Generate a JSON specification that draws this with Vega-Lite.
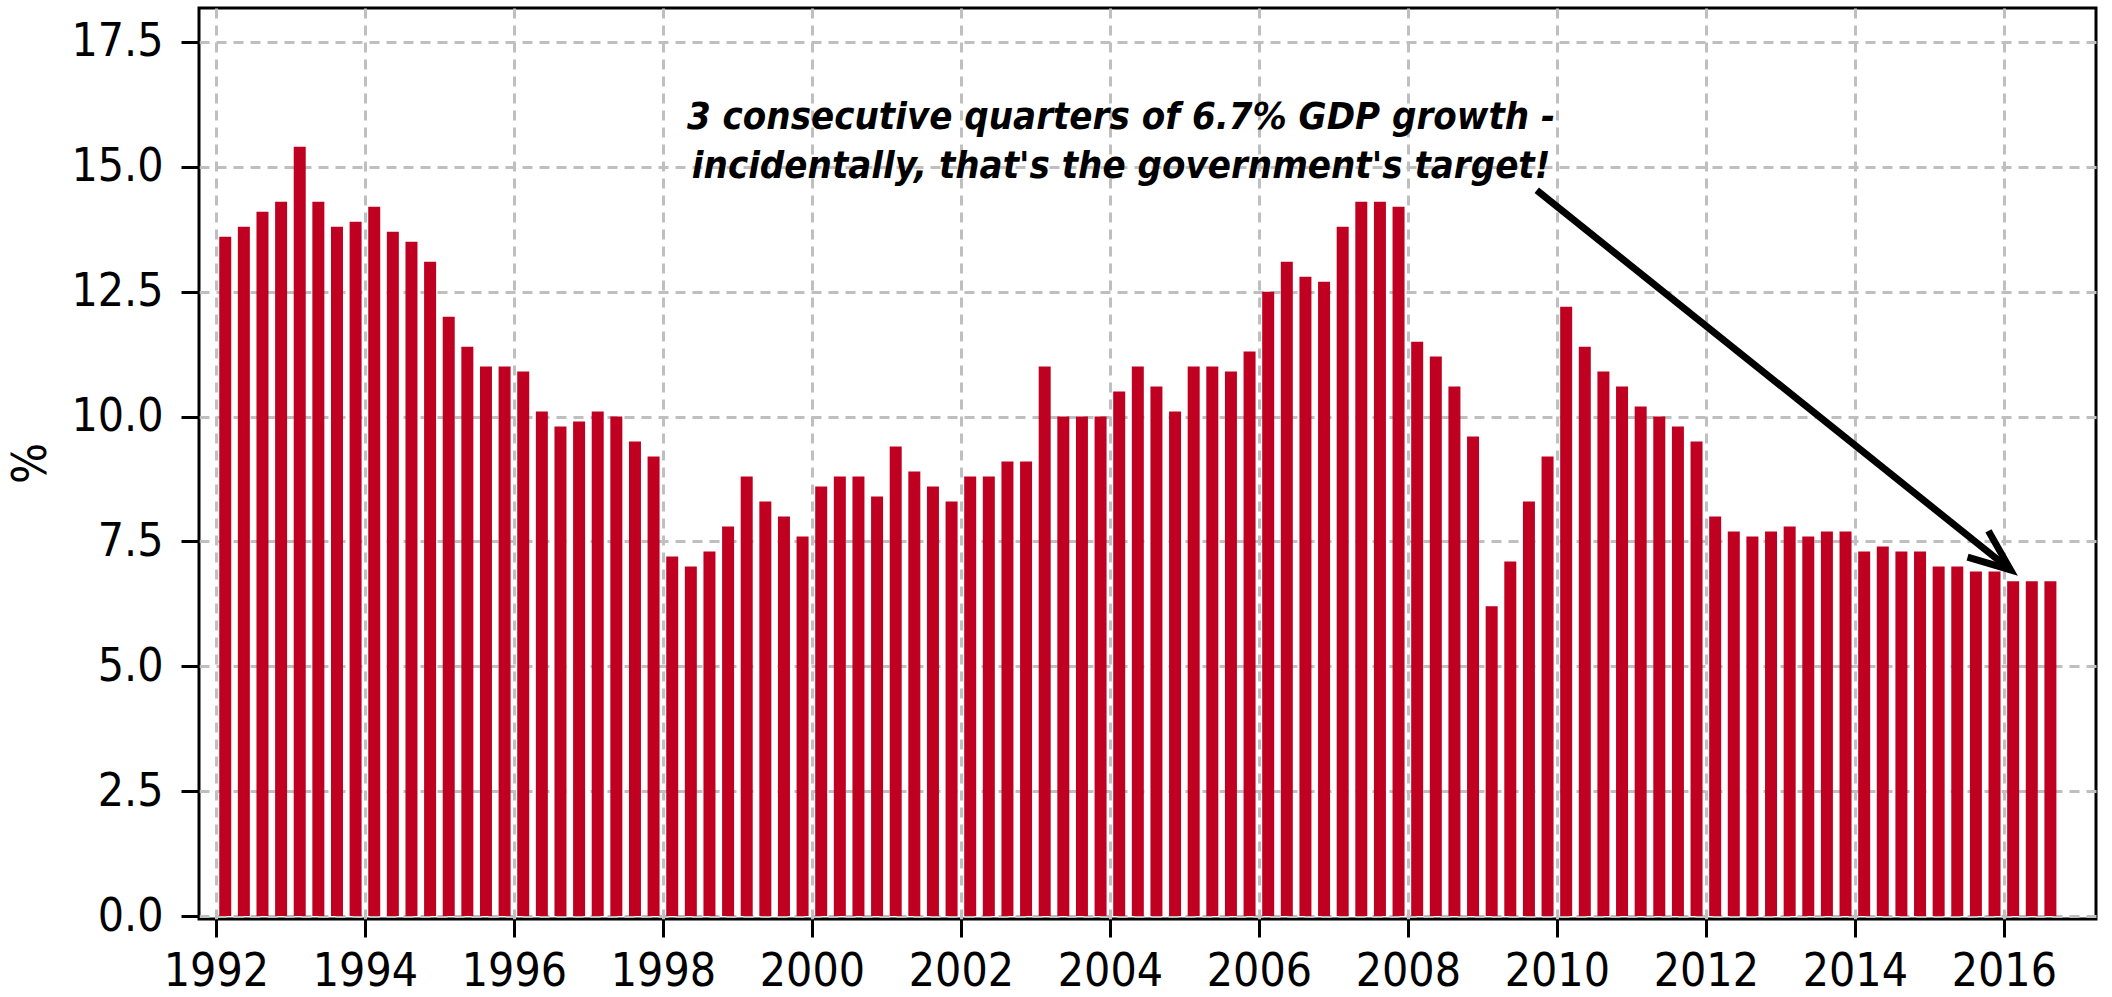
{
  "$schema": "https://vega.github.io/schema/vega-lite/v6.json",
  "width": 1897,
  "height": 911,
  "autosize": "none",
  "padding": {"left": 199, "top": 8, "right": 16, "bottom": 78},
  "background": "white",
  "config": {
    "view": {"stroke": "black", "strokeWidth": 3},
    "font": "Liberation Sans Narrow, DejaVu Sans Condensed, Roboto, sans-serif"
  },
  "datasets": {
    "gdp": [
      {"quarter": "1992Q1", "t": 1992.125, "growth": 13.6},
      {"quarter": "1992Q2", "t": 1992.375, "growth": 13.8},
      {"quarter": "1992Q3", "t": 1992.625, "growth": 14.1},
      {"quarter": "1992Q4", "t": 1992.875, "growth": 14.3},
      {"quarter": "1993Q1", "t": 1993.125, "growth": 15.4},
      {"quarter": "1993Q2", "t": 1993.375, "growth": 14.3},
      {"quarter": "1993Q3", "t": 1993.625, "growth": 13.8},
      {"quarter": "1993Q4", "t": 1993.875, "growth": 13.9},
      {"quarter": "1994Q1", "t": 1994.125, "growth": 14.2},
      {"quarter": "1994Q2", "t": 1994.375, "growth": 13.7},
      {"quarter": "1994Q3", "t": 1994.625, "growth": 13.5},
      {"quarter": "1994Q4", "t": 1994.875, "growth": 13.1},
      {"quarter": "1995Q1", "t": 1995.125, "growth": 12.0},
      {"quarter": "1995Q2", "t": 1995.375, "growth": 11.4},
      {"quarter": "1995Q3", "t": 1995.625, "growth": 11.0},
      {"quarter": "1995Q4", "t": 1995.875, "growth": 11.0},
      {"quarter": "1996Q1", "t": 1996.125, "growth": 10.9},
      {"quarter": "1996Q2", "t": 1996.375, "growth": 10.1},
      {"quarter": "1996Q3", "t": 1996.625, "growth": 9.8},
      {"quarter": "1996Q4", "t": 1996.875, "growth": 9.9},
      {"quarter": "1997Q1", "t": 1997.125, "growth": 10.1},
      {"quarter": "1997Q2", "t": 1997.375, "growth": 10.0},
      {"quarter": "1997Q3", "t": 1997.625, "growth": 9.5},
      {"quarter": "1997Q4", "t": 1997.875, "growth": 9.2},
      {"quarter": "1998Q1", "t": 1998.125, "growth": 7.2},
      {"quarter": "1998Q2", "t": 1998.375, "growth": 7.0},
      {"quarter": "1998Q3", "t": 1998.625, "growth": 7.3},
      {"quarter": "1998Q4", "t": 1998.875, "growth": 7.8},
      {"quarter": "1999Q1", "t": 1999.125, "growth": 8.8},
      {"quarter": "1999Q2", "t": 1999.375, "growth": 8.3},
      {"quarter": "1999Q3", "t": 1999.625, "growth": 8.0},
      {"quarter": "1999Q4", "t": 1999.875, "growth": 7.6},
      {"quarter": "2000Q1", "t": 2000.125, "growth": 8.6},
      {"quarter": "2000Q2", "t": 2000.375, "growth": 8.8},
      {"quarter": "2000Q3", "t": 2000.625, "growth": 8.8},
      {"quarter": "2000Q4", "t": 2000.875, "growth": 8.4},
      {"quarter": "2001Q1", "t": 2001.125, "growth": 9.4},
      {"quarter": "2001Q2", "t": 2001.375, "growth": 8.9},
      {"quarter": "2001Q3", "t": 2001.625, "growth": 8.6},
      {"quarter": "2001Q4", "t": 2001.875, "growth": 8.3},
      {"quarter": "2002Q1", "t": 2002.125, "growth": 8.8},
      {"quarter": "2002Q2", "t": 2002.375, "growth": 8.8},
      {"quarter": "2002Q3", "t": 2002.625, "growth": 9.1},
      {"quarter": "2002Q4", "t": 2002.875, "growth": 9.1},
      {"quarter": "2003Q1", "t": 2003.125, "growth": 11.0},
      {"quarter": "2003Q2", "t": 2003.375, "growth": 10.0},
      {"quarter": "2003Q3", "t": 2003.625, "growth": 10.0},
      {"quarter": "2003Q4", "t": 2003.875, "growth": 10.0},
      {"quarter": "2004Q1", "t": 2004.125, "growth": 10.5},
      {"quarter": "2004Q2", "t": 2004.375, "growth": 11.0},
      {"quarter": "2004Q3", "t": 2004.625, "growth": 10.6},
      {"quarter": "2004Q4", "t": 2004.875, "growth": 10.1},
      {"quarter": "2005Q1", "t": 2005.125, "growth": 11.0},
      {"quarter": "2005Q2", "t": 2005.375, "growth": 11.0},
      {"quarter": "2005Q3", "t": 2005.625, "growth": 10.9},
      {"quarter": "2005Q4", "t": 2005.875, "growth": 11.3},
      {"quarter": "2006Q1", "t": 2006.125, "growth": 12.5},
      {"quarter": "2006Q2", "t": 2006.375, "growth": 13.1},
      {"quarter": "2006Q3", "t": 2006.625, "growth": 12.8},
      {"quarter": "2006Q4", "t": 2006.875, "growth": 12.7},
      {"quarter": "2007Q1", "t": 2007.125, "growth": 13.8},
      {"quarter": "2007Q2", "t": 2007.375, "growth": 14.3},
      {"quarter": "2007Q3", "t": 2007.625, "growth": 14.3},
      {"quarter": "2007Q4", "t": 2007.875, "growth": 14.2},
      {"quarter": "2008Q1", "t": 2008.125, "growth": 11.5},
      {"quarter": "2008Q2", "t": 2008.375, "growth": 11.2},
      {"quarter": "2008Q3", "t": 2008.625, "growth": 10.6},
      {"quarter": "2008Q4", "t": 2008.875, "growth": 9.6},
      {"quarter": "2009Q1", "t": 2009.125, "growth": 6.2},
      {"quarter": "2009Q2", "t": 2009.375, "growth": 7.1},
      {"quarter": "2009Q3", "t": 2009.625, "growth": 8.3},
      {"quarter": "2009Q4", "t": 2009.875, "growth": 9.2},
      {"quarter": "2010Q1", "t": 2010.125, "growth": 12.2},
      {"quarter": "2010Q2", "t": 2010.375, "growth": 11.4},
      {"quarter": "2010Q3", "t": 2010.625, "growth": 10.9},
      {"quarter": "2010Q4", "t": 2010.875, "growth": 10.6},
      {"quarter": "2011Q1", "t": 2011.125, "growth": 10.2},
      {"quarter": "2011Q2", "t": 2011.375, "growth": 10.0},
      {"quarter": "2011Q3", "t": 2011.625, "growth": 9.8},
      {"quarter": "2011Q4", "t": 2011.875, "growth": 9.5},
      {"quarter": "2012Q1", "t": 2012.125, "growth": 8.0},
      {"quarter": "2012Q2", "t": 2012.375, "growth": 7.7},
      {"quarter": "2012Q3", "t": 2012.625, "growth": 7.6},
      {"quarter": "2012Q4", "t": 2012.875, "growth": 7.7},
      {"quarter": "2013Q1", "t": 2013.125, "growth": 7.8},
      {"quarter": "2013Q2", "t": 2013.375, "growth": 7.6},
      {"quarter": "2013Q3", "t": 2013.625, "growth": 7.7},
      {"quarter": "2013Q4", "t": 2013.875, "growth": 7.7},
      {"quarter": "2014Q1", "t": 2014.125, "growth": 7.3},
      {"quarter": "2014Q2", "t": 2014.375, "growth": 7.4},
      {"quarter": "2014Q3", "t": 2014.625, "growth": 7.3},
      {"quarter": "2014Q4", "t": 2014.875, "growth": 7.3},
      {"quarter": "2015Q1", "t": 2015.125, "growth": 7.0},
      {"quarter": "2015Q2", "t": 2015.375, "growth": 7.0},
      {"quarter": "2015Q3", "t": 2015.625, "growth": 6.9},
      {"quarter": "2015Q4", "t": 2015.875, "growth": 6.9},
      {"quarter": "2016Q1", "t": 2016.125, "growth": 6.7},
      {"quarter": "2016Q2", "t": 2016.375, "growth": 6.7},
      {"quarter": "2016Q3", "t": 2016.625, "growth": 6.7}
    ],
    "note": [
      {"t": 2004.15, "growth": 15.75, "label": ["3 consecutive quarters of 6.7% GDP growth -", "incidentally, that's the government's target!"]}
    ],
    "arrow": [
      {"t": 2009.73, "growth": 14.53, "t_end": 2016.09, "growth_end": 6.93}
    ]
  },
  "layer": [
    {
      "data": {"name": "gdp"},
      "mark": {"type": "bar", "color": "#c00020", "size": 12},
      "encoding": {
        "x": {
          "field": "t",
          "type": "quantitative",
          "scale": {"domain": [1991.84, 2017.17], "nice": false, "zero": false},
          "axis": {
            "title": null,
            "values": [1992, 1994, 1996, 1998, 2000, 2002, 2004, 2006, 2008, 2010, 2012, 2014, 2016],
            "format": "d",
            "grid": true,
            "gridDash": [10, 7],
            "gridColor": "#bfbfbf",
            "gridWidth": 3,
            "domain": false,
            "tickColor": "black",
            "tickWidth": 3,
            "tickSize": 18,
            "labelFontSize": 46,
            "labelColor": "black",
            "labelPadding": 12,
            "labelFlush": false,
            "labelOverlap": false
          }
        },
        "y": {
          "field": "growth",
          "type": "quantitative",
          "scale": {"domain": [-0.06, 18.18], "nice": false, "zero": false},
          "axis": {
            "title": "%",
            "titleFontSize": 48,
            "titleFontWeight": "normal",
            "titleColor": "black",
            "titleAngle": -90,
            "titleAlign": "center",
            "titleBaseline": "middle",
            "titleX": -168,
            "titleY": 455,
            "values": [0, 2.5, 5, 7.5, 10, 12.5, 15, 17.5],
            "format": ".1f",
            "grid": true,
            "gridDash": [10, 7],
            "gridColor": "#bfbfbf",
            "gridWidth": 3,
            "domain": false,
            "tickColor": "black",
            "tickWidth": 3,
            "tickSize": 18,
            "labelFontSize": 46,
            "labelColor": "black",
            "labelPadding": 18,
            "labelFlush": false,
            "labelOverlap": false
          }
        }
      }
    },
    {
      "data": {"name": "note"},
      "mark": {
        "type": "text",
        "fontStyle": "italic",
        "fontWeight": "bold",
        "fontSize": 38,
        "lineHeight": 49,
        "align": "center",
        "baseline": "alphabetic",
        "color": "black"
      },
      "encoding": {
        "x": {"field": "t", "type": "quantitative"},
        "y": {"field": "growth", "type": "quantitative"},
        "text": {"field": "label"}
      }
    },
    {
      "data": {"name": "arrow"},
      "mark": {"type": "rule", "color": "black", "strokeWidth": 7, "strokeCap": "butt"},
      "encoding": {
        "x": {"field": "t", "type": "quantitative"},
        "y": {"field": "growth", "type": "quantitative"},
        "x2": {"field": "t_end"},
        "y2": {"field": "growth_end"}
      }
    },
    {
      "data": {"name": "arrow"},
      "mark": {
        "type": "point",
        "shape": "M-1.86,-0.75L0,0L-1.86,0.75",
        "size": 2000,
        "filled": false,
        "stroke": "black",
        "strokeWidth": 7,
        "strokeJoin": "miter",
        "opacity": 1,
        "angle": 38.5
      },
      "encoding": {
        "x": {"field": "t_end", "type": "quantitative"},
        "y": {"field": "growth_end", "type": "quantitative"}
      }
    }
  ]
}
